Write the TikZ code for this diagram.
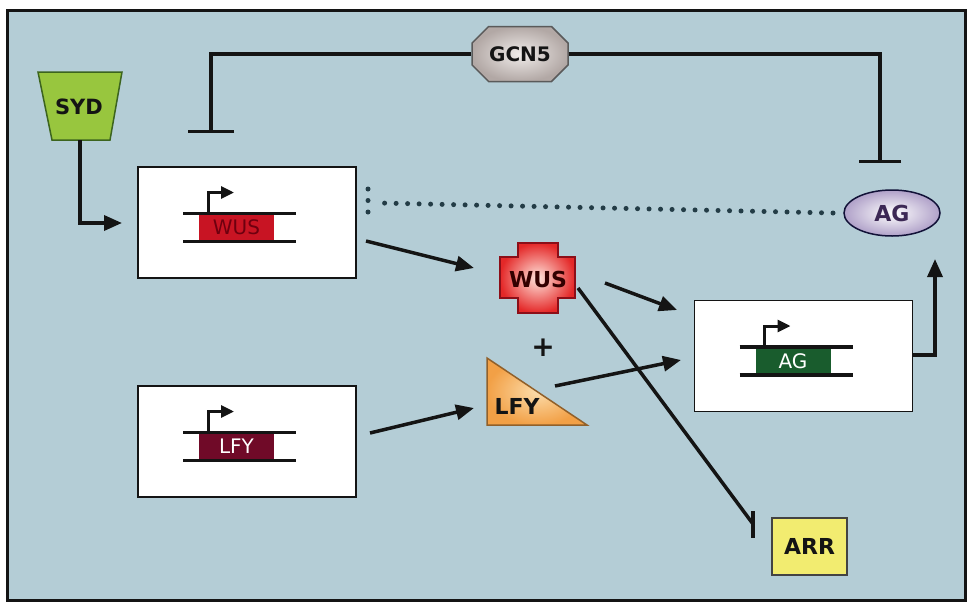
\documentclass[tikz,border=0pt]{standalone}
\usepackage{fontspec}
\setmainfont{DejaVu Sans}
\usetikzlibrary{arrows.meta,shapes.misc,shapes.geometric,calc}
\definecolor{bgc}{RGB}{180,205,214}
\definecolor{sydg}{RGB}{152,198,62}
\definecolor{sydb}{RGB}{60,100,30}
\definecolor{wusred}{RGB}{200,20,35}
\definecolor{wustxt}{RGB}{110,0,15}
\definecolor{lfymar}{RGB}{112,10,40}
\definecolor{aggreen}{RGB}{25,92,45}
\definecolor{arry}{RGB}{242,236,112}
\definecolor{lfyor}{RGB}{242,160,70}
\definecolor{lfylight}{RGB}{252,220,170}
\definecolor{gcnout}{RGB}{178,168,165}
\definecolor{gcnin}{RGB}{240,236,234}
\definecolor{crossout}{RGB}{228,40,40}
\definecolor{crossin}{RGB}{255,228,220}
\definecolor{agout}{RGB}{175,160,200}
\definecolor{agtxt}{RGB}{60,40,85}
\definecolor{dotc}{RGB}{35,60,70}
\definecolor{ink}{RGB}{20,20,20}
\tikzset{
  lbl/.style={font=\fontsize{20}{24}\selectfont\bfseries, text=ink, inner sep=0pt},
  arr/.style={draw=ink, line width=3.5pt, -{Triangle[length=18pt,width=15pt]}},
  inh/.style={draw=ink, line width=3.5pt},
  tbar/.style={draw=ink, line width=3.5pt, -{Bar[width=46pt]}},
  dotline/.style={draw=dotc, line width=5pt, line cap=round, dash pattern=on 0pt off 11.5pt},
  genebox/.style={draw=ink, line width=1.5pt, fill=white, minimum width=218pt, minimum height=111pt, inner sep=0pt},
  pics/gene/.style n args={3}{code={
    \fill[#1] (-48,-9) rectangle (27,19);
    \draw[ink, line width=3.5pt] (-64,-9) -- (49,-9) (-64,19) -- (49,19);
    \draw[ink, line width=3pt, -{Triangle[length=13pt,width=12pt]}] (-39,-9) -- (-39,-30) -- (-13,-30);
    \node[text=#2, font=\fontsize{20}{24}\selectfont, inner sep=0pt] (lab) at (-10.5,5) {#3};
  }}
}
\begin{document}
\begin{tikzpicture}[x=1pt,y=-1pt]
\useasboundingbox (0,0) rectangle (969,603);
\fill[white] (0,0) rectangle (969,603);
\draw[fill=bgc, draw=ink, line width=3pt] (7,10) rectangle (965,600);

% gene boxes
\node[genebox] (wusbox) at (247,222.5) {};
\pic (wusg) at (247,222.5) {gene={wusred}{wustxt}{WUS}};
\node[genebox] (lfybox) at (247,441.5) {};
\pic (lfyg) at (247,441.5) {gene={lfymar}{white}{LFY}};
\node[genebox] (agbox) at (803.5,356) {};
\pic (agg) at (803.5,356) {gene={aggreen}{white}{AG}};

% GCN5
\node[chamfered rectangle, chamfered rectangle xsep=9pt, chamfered rectangle ysep=9pt,
      minimum width=96pt, minimum height=55pt, inner sep=0pt,
      draw=ink!70, line width=1.5pt, inner color=gcnin, outer color=gcnout,
      lbl, font=\fontsize{20}{22}\selectfont\bfseries] (gcn) at (520,54) {GCN5};

% SYD
\path[draw=sydb, line width=1.5pt, fill=sydg] (38,72) -- (122,72) -- (110,140) -- (52,140) -- cycle;
\node[lbl, font=\fontsize{21}{24}\selectfont\bfseries] (syd) at (79,107) {SYD};
\coordinate (sydbot) at (80,140);
\coordinate (sydend) at (122,223);

% WUS cross
\path[draw=wusred!70!black, line width=1.5pt, inner color=crossin, outer color=crossout]
  (518,243) -- (558,243) -- (558,257) -- (575,257) -- (575,298) -- (558,298) -- (558,313)
  -- (518,313) -- (518,298) -- (500,298) -- (500,257) -- (518,257) -- cycle;
\node[lbl, font=\fontsize{22}{26}\selectfont\bfseries, text=black!80!red] (wus) at (538,279) {WUS};

% plus
\node[lbl, font=\fontsize{28}{30}\selectfont\bfseries] (plus) at (543,348) {+};

% LFY triangle
\path[draw=lfyor!60!black, line width=1.5pt, inner color=lfylight, outer color=lfyor]
  (487,358) -- (587,425) -- (487,425) -- cycle;
\node[lbl, font=\fontsize{22}{26}\selectfont\bfseries] (lfy) at (517,406) {LFY};

% ARR
\node[draw=ink!80, line width=1.5pt, fill=arry, minimum width=75pt, minimum height=57pt,
      lbl, font=\fontsize{22}{26}\selectfont\bfseries] (arr) at (809.5,546.5) {ARR};

% AG protein
\node[ellipse, draw=ink!85!blue, line width=1.5pt, minimum width=96pt, minimum height=46pt,
      inner color=white, outer color=agout, lbl, font=\fontsize{22}{24}\selectfont\bfseries, text=agtxt] (agp) at (892,213) {AG};

% connector end points
\coordinate (c1s) at (366,241);  \coordinate (c1e) at (474,268);
\coordinate (c2s) at (370,433);  \coordinate (c2e) at (474,408);
\coordinate (c3s) at (605,283);  \coordinate (c3e) at (677,310);
\coordinate (c4s) at (555,386);  \coordinate (c4e) at (681,360);
\coordinate (c5s) at (578,288);  \coordinate (c5e) at (753,524);
\coordinate (c5a) at (753,511);  \coordinate (c5b) at (753,538);
\coordinate (c6s) at (912,355);  \coordinate (c6e) at (935,259);
\coordinate (c7s) at (833,213);  \coordinate (c7e) at (380,203);
\coordinate (c7a) at (368,189);  \coordinate (c7b) at (368,217);
\coordinate (c8e) at (211,133);
\coordinate (c9e) at (880,163);

% connectors
\draw[arr] (sydbot) |- (sydend);
\draw[arr] (c1s) -- (c1e);
\draw[arr] (c2s) -- (c2e);
\draw[arr] (c3s) -- (c3e);
\draw[arr] (c4s) -- (c4e);
\draw[inh] (c5s) -- (c5e);
\draw[inh, line cap=butt] (c5a) -- (c5b);
\draw[arr] (c6s) -| (c6e);
\draw[dotline] (c7s) -- (c7e);
\draw[dotline] (c7a) -- (c7b);
\draw[tbar] (gcn.west) -| (c8e);
\draw[tbar, -{Bar[width=42pt]}] (gcn.east) -| (c9e);
\end{tikzpicture}
\end{document}
